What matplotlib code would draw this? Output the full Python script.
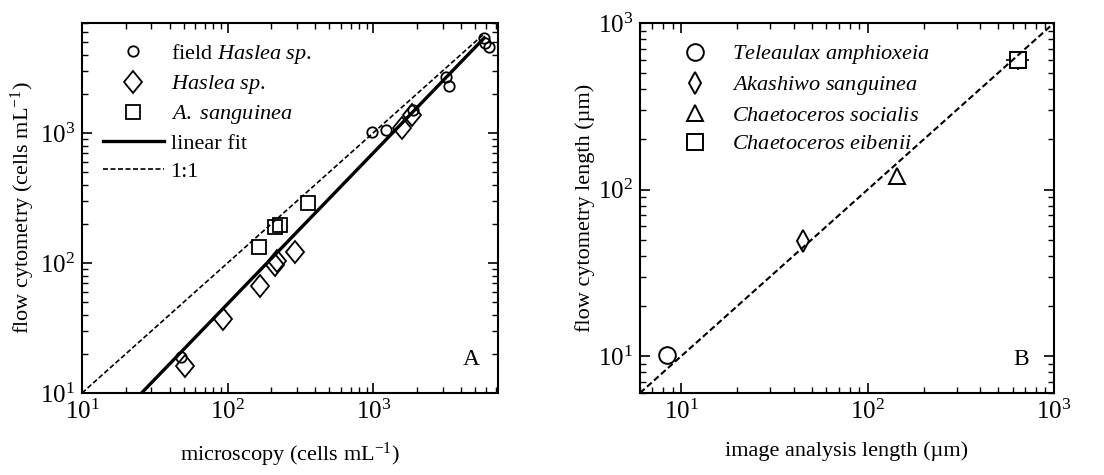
import matplotlib
matplotlib.use('Agg')
import matplotlib.pyplot as plt
import numpy as np
from matplotlib.markers import MarkerStyle
from matplotlib.ticker import LogLocator, NullFormatter
from matplotlib.transforms import Affine2D

plt.rcParams['font.family'] = ['Liberation Serif', 'DejaVu Serif']
plt.rcParams['mathtext.fontset'] = 'custom'
plt.rcParams['mathtext.rm'] = 'Liberation Serif'
plt.rcParams['mathtext.it'] = 'Liberation Serif:italic'
plt.rcParams['font.size'] = 16

# Panel A: counts, microscopy vs flow cytometry (cells mL-1)
field_micro = [48, 980, 1230, 1890, 3150, 3300, 5800, 5900, 6250]
field_fcm = [19, 1010, 1060, 1500, 2700, 2300, 5400, 4900, 4600]
haslea_micro = [51, 93, 167, 212, 220, 290, 1580, 1860]
haslea_fcm = [16, 37, 66, 97, 103, 122, 1100, 1370]
sang_micro = [165, 212, 230, 355]
sang_fcm = [133, 190, 197, 290]
fit_slope = 1.16
fit_intercept = 0.232
fit_range = (20, 5800)
one_to_one_range = (10, 5800)

# Panel B: lengths (um)
tele_img, tele_fcm = [8.4], [10.1]
akash_img, akash_fcm = [45], [49]
socialis_img, socialis_fcm = [143], [120]
eibenii_img, eibenii_fcm = [640], [600]
eibenii_xerr, eibenii_yerr = [90], [80]

# slightly squashed diamond for the culture counts
wide_diamond = MarkerStyle('D', transform=Affine2D().scale(0.8, 1.0))


def style_axes(ax):
    for side in ax.spines.values():
        side.set_linewidth(1.5)
    ax.tick_params(which='both', direction='in', top=True, right=True,
                   labelsize=18, pad=5)
    ax.tick_params(which='major', length=7, width=1.2)
    ax.tick_params(which='minor', length=4, width=1.0)
    for axis in (ax.xaxis, ax.yaxis):
        axis.set_minor_locator(LogLocator(base=10, subs=np.arange(2, 10), numticks=20))
        axis.set_minor_formatter(NullFormatter())


fig = plt.figure(figsize=(11.04, 4.75), dpi=100)
W, H = 1104, 475
ax1 = fig.add_axes([82 / W, (H - 393) / H, 416 / W, 370 / H])
ax2 = fig.add_axes([640 / W, (H - 393) / H, 414 / W, 370 / H])

ax1.set_xscale('log')
ax1.set_yscale('log')
ax1.plot(field_micro, field_fcm, 'o', ms=7.5, mfc='none', mec='black', mew=1.3,
         label='field $\\mathit{Haslea\\ sp.}$')
ax1.plot(haslea_micro, haslea_fcm, ls='none', marker=wide_diamond, ms=11, mfc='none',
         mec='black', mew=1.3, label='$\\mathit{Haslea\\ sp.}$')
ax1.plot(sang_micro, sang_fcm, 's', ms=9.5, mfc='none', mec='black', mew=1.3,
         label='$\\mathit{A.\\ sanguinea}$')
xf = np.logspace(np.log10(fit_range[0]), np.log10(fit_range[1]), 50)
ax1.plot(xf, fit_intercept * xf ** fit_slope, '-', color='black', lw=2.4, label='linear fit')
ax1.plot(one_to_one_range, one_to_one_range, '--', color='black', lw=1.2,
         dashes=(3, 1.5), label='1:1')
ax1.set_xlim(10, 7200)
ax1.set_ylim(10, 7000)
ax1.set_xlabel('microscopy (cells mL$^{-1}$)', labelpad=12)
ax1.set_ylabel('flow cytometry (cells mL$^{-1}$)', labelpad=2)
ax1.text(0.955, 0.09, 'A', transform=ax1.transAxes, ha='right', va='center', fontsize=17)
ax1.legend(loc='upper left', bbox_to_anchor=(0.05, 0.948), frameon=False,
           handlelength=2.75, handletextpad=0.3, labelspacing=0.32, borderpad=0,
           borderaxespad=0, fontsize=16)
style_axes(ax1)

ax2.set_xscale('log')
ax2.set_yscale('log')
ax2.plot(tele_img, tele_fcm, 'o', ms=12, mfc='none', mec='black', mew=1.4,
         label='$\\mathit{Teleaulax\\ amphioxeia}$')
ax2.plot(akash_img, akash_fcm, 'd', ms=11, mfc='none', mec='black', mew=1.4,
         label='$\\mathit{Akashiwo\\ sanguinea}$')
ax2.plot(socialis_img, socialis_fcm, '^', ms=12, mfc='none', mec='black', mew=1.4,
         label='$\\mathit{Chaetoceros\\ socialis}$')
ax2.errorbar(eibenii_img, eibenii_fcm, xerr=eibenii_xerr, yerr=eibenii_yerr,
             fmt='none', ecolor='black', elinewidth=1.2, capsize=0)
ax2.plot(eibenii_img, eibenii_fcm, 's', ms=11, mfc='white', mec='black', mew=1.4,
         label='$\\mathit{Chaetoceros\\ eibenii}$')
ax2.plot([6, 1000], [6, 1000], '--', color='black', lw=1.5, dashes=(3, 1.5))
ax2.set_xlim(6, 1000)
ax2.set_ylim(6, 1000)
ax2.set_xlabel('image analysis length (\u00b5m)', labelpad=12)
ax2.set_ylabel('flow cytometry length (\u00b5m)', labelpad=2)
ax2.text(0.94, 0.09, 'B', transform=ax2.transAxes, ha='right', va='center', fontsize=17)
ax2.legend(loc='upper left', bbox_to_anchor=(0.058, 0.945), frameon=False,
           handlelength=2.75, handletextpad=0.3, labelspacing=0.36, borderpad=0,
           borderaxespad=0, fontsize=16)
style_axes(ax2)

fig.savefig('out.png', dpi=100)
